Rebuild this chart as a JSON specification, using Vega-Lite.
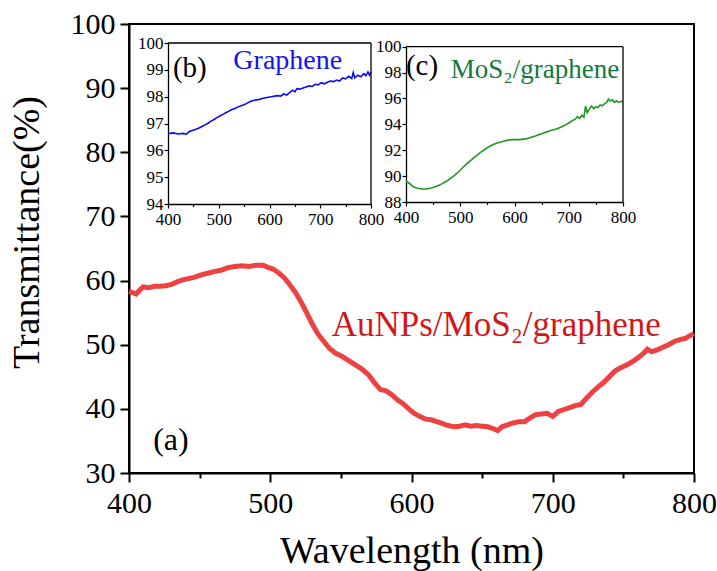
{
  "$schema": "https://vega.github.io/schema/vega-lite/v6.json",
  "width": 565,
  "height": 449,
  "autosize": {"type": "none"},
  "padding": {"left": 129, "top": 24, "right": 23, "bottom": 98},
  "background": "white",
  "config": {
    "view": {"stroke": "black", "strokeWidth": 2},
    "font": "Liberation Serif",
    "axis": {
      "labelFont": "Liberation Serif",
      "titleFont": "Liberation Serif",
      "labelColor": "black",
      "titleColor": "black",
      "domainColor": "black",
      "tickColor": "black",
      "titleFontWeight": "normal",
      "grid": false,
      "labelFlush": false,
      "labelOverlap": false
    }
  },
  "datasets": {
    "one": [{}],
    "main": [
      {"wl": 400, "t": 58.3}, {"wl": 403, "t": 58.1}, {"wl": 405, "t": 57.9}, {"wl": 408, "t": 58.6}, {"wl": 410, "t": 59.0},
      {"wl": 414, "t": 58.9}, {"wl": 418, "t": 59.1}, {"wl": 422, "t": 59.1}, {"wl": 426, "t": 59.2}, {"wl": 430, "t": 59.4},
      {"wl": 434, "t": 59.8}, {"wl": 438, "t": 60.1}, {"wl": 442, "t": 60.3}, {"wl": 446, "t": 60.5}, {"wl": 450, "t": 60.8},
      {"wl": 455, "t": 61.1}, {"wl": 460, "t": 61.4}, {"wl": 465, "t": 61.6}, {"wl": 470, "t": 62.0}, {"wl": 475, "t": 62.2},
      {"wl": 480, "t": 62.3}, {"wl": 485, "t": 62.2}, {"wl": 490, "t": 62.4}, {"wl": 495, "t": 62.4}, {"wl": 498, "t": 62.1},
      {"wl": 502, "t": 61.8}, {"wl": 506, "t": 61.2}, {"wl": 510, "t": 60.4}, {"wl": 514, "t": 59.3}, {"wl": 518, "t": 58.1},
      {"wl": 522, "t": 56.6}, {"wl": 526, "t": 54.9}, {"wl": 530, "t": 53.1}, {"wl": 534, "t": 51.6}, {"wl": 538, "t": 50.5},
      {"wl": 542, "t": 49.4}, {"wl": 546, "t": 48.7}, {"wl": 550, "t": 48.3}, {"wl": 555, "t": 47.6}, {"wl": 560, "t": 46.9},
      {"wl": 565, "t": 46.2}, {"wl": 570, "t": 45.2}, {"wl": 574, "t": 44.0}, {"wl": 578, "t": 43.0}, {"wl": 582, "t": 42.8},
      {"wl": 586, "t": 42.2}, {"wl": 590, "t": 41.4}, {"wl": 594, "t": 40.8}, {"wl": 598, "t": 40.0}, {"wl": 602, "t": 39.3},
      {"wl": 606, "t": 38.8}, {"wl": 610, "t": 38.4}, {"wl": 614, "t": 38.3}, {"wl": 618, "t": 38.0}, {"wl": 622, "t": 37.7},
      {"wl": 626, "t": 37.4}, {"wl": 630, "t": 37.2}, {"wl": 634, "t": 37.3}, {"wl": 638, "t": 37.5}, {"wl": 642, "t": 37.3},
      {"wl": 646, "t": 37.4}, {"wl": 650, "t": 37.3}, {"wl": 654, "t": 37.2}, {"wl": 658, "t": 36.9}, {"wl": 661, "t": 36.6},
      {"wl": 664, "t": 37.2}, {"wl": 668, "t": 37.5}, {"wl": 672, "t": 37.8}, {"wl": 676, "t": 38.0}, {"wl": 680, "t": 38.0},
      {"wl": 684, "t": 38.6}, {"wl": 688, "t": 39.1}, {"wl": 692, "t": 39.2}, {"wl": 696, "t": 39.3}, {"wl": 700, "t": 38.8},
      {"wl": 704, "t": 39.6}, {"wl": 708, "t": 39.9}, {"wl": 712, "t": 40.2}, {"wl": 716, "t": 40.5}, {"wl": 720, "t": 40.7},
      {"wl": 724, "t": 41.7}, {"wl": 728, "t": 42.6}, {"wl": 732, "t": 43.4}, {"wl": 736, "t": 44.1}, {"wl": 740, "t": 45.0},
      {"wl": 744, "t": 45.9}, {"wl": 748, "t": 46.4}, {"wl": 752, "t": 46.8}, {"wl": 756, "t": 47.3}, {"wl": 760, "t": 47.9},
      {"wl": 764, "t": 48.6}, {"wl": 767, "t": 49.3}, {"wl": 770, "t": 48.9}, {"wl": 774, "t": 49.2}, {"wl": 778, "t": 49.6},
      {"wl": 782, "t": 50.0}, {"wl": 786, "t": 50.5}, {"wl": 790, "t": 50.8}, {"wl": 794, "t": 51.0}, {"wl": 797, "t": 51.4},
      {"wl": 800, "t": 51.7}
    ],
    "b": [
      {"wl": 400, "t": 96.62}, {"wl": 410, "t": 96.65}, {"wl": 420, "t": 96.61}, {"wl": 430, "t": 96.63}, {"wl": 436, "t": 96.60},
      {"wl": 442, "t": 96.70}, {"wl": 448, "t": 96.74}, {"wl": 454, "t": 96.78}, {"wl": 460, "t": 96.82}, {"wl": 466, "t": 96.88},
      {"wl": 472, "t": 96.94}, {"wl": 478, "t": 97.00}, {"wl": 484, "t": 97.08}, {"wl": 490, "t": 97.14}, {"wl": 496, "t": 97.22},
      {"wl": 502, "t": 97.28}, {"wl": 508, "t": 97.34}, {"wl": 514, "t": 97.40}, {"wl": 520, "t": 97.46}, {"wl": 526, "t": 97.52},
      {"wl": 532, "t": 97.56}, {"wl": 538, "t": 97.62}, {"wl": 544, "t": 97.66}, {"wl": 550, "t": 97.70}, {"wl": 556, "t": 97.76},
      {"wl": 562, "t": 97.82}, {"wl": 568, "t": 97.86}, {"wl": 574, "t": 97.88}, {"wl": 580, "t": 97.90}, {"wl": 586, "t": 97.93},
      {"wl": 592, "t": 97.96}, {"wl": 598, "t": 97.98}, {"wl": 604, "t": 98.00}, {"wl": 610, "t": 98.02}, {"wl": 616, "t": 98.04},
      {"wl": 622, "t": 98.02}, {"wl": 628, "t": 98.10}, {"wl": 634, "t": 98.06}, {"wl": 640, "t": 98.16}, {"wl": 646, "t": 98.24},
      {"wl": 650, "t": 98.18}, {"wl": 654, "t": 98.30}, {"wl": 660, "t": 98.28}, {"wl": 666, "t": 98.32}, {"wl": 672, "t": 98.36},
      {"wl": 678, "t": 98.40}, {"wl": 684, "t": 98.38}, {"wl": 690, "t": 98.46}, {"wl": 696, "t": 98.44}, {"wl": 702, "t": 98.52},
      {"wl": 708, "t": 98.48}, {"wl": 714, "t": 98.54}, {"wl": 720, "t": 98.58}, {"wl": 726, "t": 98.56}, {"wl": 732, "t": 98.62},
      {"wl": 738, "t": 98.58}, {"wl": 744, "t": 98.70}, {"wl": 750, "t": 98.66}, {"wl": 756, "t": 98.76}, {"wl": 762, "t": 98.68},
      {"wl": 765, "t": 98.90}, {"wl": 768, "t": 98.70}, {"wl": 774, "t": 98.80}, {"wl": 780, "t": 98.74}, {"wl": 786, "t": 98.86},
      {"wl": 790, "t": 98.78}, {"wl": 794, "t": 98.92}, {"wl": 797, "t": 98.80}, {"wl": 800, "t": 98.92}
    ],
    "c": [
      {"wl": 400, "t": 89.60}, {"wl": 406, "t": 89.45}, {"wl": 412, "t": 89.22}, {"wl": 418, "t": 89.10}, {"wl": 424, "t": 89.04},
      {"wl": 430, "t": 89.00}, {"wl": 436, "t": 89.00}, {"wl": 442, "t": 89.04}, {"wl": 448, "t": 89.10}, {"wl": 454, "t": 89.18},
      {"wl": 460, "t": 89.28}, {"wl": 466, "t": 89.40}, {"wl": 472, "t": 89.54}, {"wl": 478, "t": 89.70}, {"wl": 484, "t": 89.88},
      {"wl": 490, "t": 90.08}, {"wl": 496, "t": 90.30}, {"wl": 502, "t": 90.55}, {"wl": 508, "t": 90.80}, {"wl": 514, "t": 91.02},
      {"wl": 520, "t": 91.24}, {"wl": 526, "t": 91.45}, {"wl": 532, "t": 91.65}, {"wl": 538, "t": 91.85}, {"wl": 544, "t": 92.02},
      {"wl": 550, "t": 92.20}, {"wl": 556, "t": 92.35}, {"wl": 562, "t": 92.46}, {"wl": 568, "t": 92.56}, {"wl": 574, "t": 92.64},
      {"wl": 580, "t": 92.70}, {"wl": 586, "t": 92.76}, {"wl": 592, "t": 92.80}, {"wl": 598, "t": 92.82}, {"wl": 604, "t": 92.82},
      {"wl": 610, "t": 92.82}, {"wl": 616, "t": 92.86}, {"wl": 622, "t": 92.88}, {"wl": 628, "t": 92.96}, {"wl": 634, "t": 93.05},
      {"wl": 640, "t": 93.12}, {"wl": 646, "t": 93.22}, {"wl": 652, "t": 93.30}, {"wl": 658, "t": 93.40}, {"wl": 664, "t": 93.48},
      {"wl": 670, "t": 93.56}, {"wl": 676, "t": 93.62}, {"wl": 682, "t": 93.72}, {"wl": 688, "t": 93.84}, {"wl": 694, "t": 93.96},
      {"wl": 700, "t": 94.10}, {"wl": 706, "t": 94.28}, {"wl": 712, "t": 94.40}, {"wl": 716, "t": 94.60}, {"wl": 720, "t": 94.46},
      {"wl": 724, "t": 94.70}, {"wl": 728, "t": 94.56}, {"wl": 731, "t": 95.40}, {"wl": 734, "t": 94.90}, {"wl": 738, "t": 95.20},
      {"wl": 742, "t": 95.42}, {"wl": 746, "t": 95.20}, {"wl": 750, "t": 95.36}, {"wl": 754, "t": 95.30}, {"wl": 758, "t": 95.50},
      {"wl": 762, "t": 95.44}, {"wl": 766, "t": 95.60}, {"wl": 770, "t": 95.70}, {"wl": 773, "t": 95.96}, {"wl": 776, "t": 95.80},
      {"wl": 780, "t": 95.90}, {"wl": 784, "t": 95.70}, {"wl": 788, "t": 95.82}, {"wl": 792, "t": 95.70}, {"wl": 796, "t": 95.78},
      {"wl": 800, "t": 95.74}
    ]
  },
  "layer": [
    {
      "layer": [
        {
          "data": {"name": "main"},
          "mark": {"type": "line", "color": "#ee4242", "strokeWidth": 5},
          "encoding": {
            "x": {
              "field": "wl", "type": "quantitative",
              "scale": {"domain": [400, 800], "nice": false, "zero": false},
              "axis": {
                "orient": "bottom", "title": "Wavelength (nm)",
                "values": [400, 450, 500, 550, 600, 650, 700, 750, 800],
                "labelExpr": "datum.value % 100 === 0 ? datum.label : ''",
                "tickSize": {"condition": {"test": "datum.value % 100 === 0", "value": 9}, "value": 5},
                "tickWidth": 2, "domainWidth": 2,
                "labelFontSize": 30, "labelPadding": 6,
                "titleFontSize": 38, "titlePadding": 14
              }
            },
            "y": {
              "field": "t", "type": "quantitative",
              "scale": {"domain": [30, 100], "nice": false, "zero": false},
              "axis": {
                "orient": "left", "title": "Transmittance(%)",
                "values": [30, 35, 40, 45, 50, 55, 60, 65, 70, 75, 80, 85, 90, 95, 100],
                "labelExpr": "datum.value % 10 === 0 ? datum.label : ''",
                "tickSize": {"condition": {"test": "datum.value % 10 === 0", "value": 9}, "value": 5},
                "tickWidth": 2, "domainWidth": 2,
                "labelFontSize": 30, "labelPadding": 5,
                "titleFontSize": 38, "titlePadding": 24, "titleY": 208
              }
            }
          }
        },
        {
          "data": {"name": "one"},
          "mark": {"type": "text", "text": "AuNPs/MoS₂/graphene", "color": "#d01818", "fontSize": 35, "font": "Liberation Serif", "align": "center", "baseline": "middle"},
          "encoding": {"x": {"datum": 660}, "y": {"datum": 53.1}}
        },
        {
          "data": {"name": "one"},
          "mark": {"type": "text", "text": "(a)", "color": "black", "fontSize": 32, "font": "Liberation Serif", "align": "center", "baseline": "middle"},
          "encoding": {"x": {"datum": 429.7}, "y": {"datum": 35.1}}
        }
      ]
    },
    {
      "layer": [
        {
          "data": {"name": "b"},
          "mark": {"type": "line", "color": "#0a0af5", "strokeWidth": 1.6},
          "encoding": {
            "x": {
              "field": "wl", "type": "quantitative",
              "scale": {"domain": [400, 800], "nice": false, "zero": false, "range": [39, 242]},
              "axis": {
                "orient": "bottom", "offset": -269, "title": null,
                "values": [400, 450, 500, 550, 600, 650, 700, 750, 800],
                "labelExpr": "datum.value % 100 === 0 ? datum.label : ''",
                "tickSize": {"condition": {"test": "datum.value % 100 === 0", "value": 4}, "value": 2.5},
                "tickWidth": 1.2, "domainWidth": 1.3,
                "labelFontSize": 17, "labelPadding": 3
              }
            },
            "y": {
              "field": "t", "type": "quantitative",
              "scale": {"domain": [94, 100], "nice": false, "zero": false, "range": [180, 19]},
              "axis": {
                "orient": "left", "offset": -39, "title": null,
                "values": [94, 94.5, 95, 95.5, 96, 96.5, 97, 97.5, 98, 98.5, 99, 99.5, 100],
                "labelExpr": "datum.value % 1 === 0 ? format(datum.value, 'd') : ''",
                "tickSize": {"condition": {"test": "datum.value % 1 === 0", "value": 4}, "value": 2.5},
                "tickWidth": 1.2, "domainWidth": 1.3,
                "labelFontSize": 17, "labelPadding": 1
              }
            }
          }
        },
        {
          "data": {"name": "one"},
          "mark": {"type": "rule", "color": "black", "strokeWidth": 1.3},
          "encoding": {"x": {"datum": 400}, "x2": {"datum": 800}, "y": {"datum": 100}}
        },
        {
          "data": {"name": "one"},
          "mark": {"type": "rule", "color": "black", "strokeWidth": 1.3},
          "encoding": {"x": {"datum": 800}, "y": {"datum": 94}, "y2": {"datum": 100}}
        },
        {
          "data": {"name": "one"},
          "mark": {"type": "text", "text": "(b)", "color": "black", "fontSize": 29, "font": "Liberation Serif", "align": "center", "baseline": "middle"},
          "encoding": {"x": {"datum": 443}, "y": {"datum": 99.07}}
        },
        {
          "data": {"name": "one"},
          "mark": {"type": "text", "text": "Graphene", "color": "#1414ee", "fontSize": 28, "font": "Liberation Serif", "align": "center", "baseline": "middle"},
          "encoding": {"x": {"datum": 636}, "y": {"datum": 99.33}}
        }
      ]
    },
    {
      "layer": [
        {
          "data": {"name": "c"},
          "mark": {"type": "line", "color": "#1f9a1f", "strokeWidth": 1.6},
          "encoding": {
            "x": {
              "field": "wl", "type": "quantitative",
              "scale": {"domain": [400, 800], "nice": false, "zero": false, "range": [277, 494]},
              "axis": {
                "orient": "bottom", "offset": -271, "title": null,
                "values": [400, 450, 500, 550, 600, 650, 700, 750, 800],
                "labelExpr": "datum.value % 100 === 0 ? datum.label : ''",
                "tickSize": {"condition": {"test": "datum.value % 100 === 0", "value": 4}, "value": 2.5},
                "tickWidth": 1.2, "domainWidth": 1.3,
                "labelFontSize": 17, "labelPadding": 3
              }
            },
            "y": {
              "field": "t", "type": "quantitative",
              "scale": {"domain": [88, 100], "nice": false, "zero": false, "range": [178, 22.7]},
              "axis": {
                "orient": "left", "offset": -277, "title": null,
                "values": [88, 89, 90, 91, 92, 93, 94, 95, 96, 97, 98, 99, 100],
                "labelExpr": "datum.value % 2 === 0 ? datum.label : ''",
                "tickSize": {"condition": {"test": "datum.value % 2 === 0", "value": 4}, "value": 2.5},
                "tickWidth": 1.2, "domainWidth": 1.3,
                "labelFontSize": 17, "labelPadding": 1
              }
            }
          }
        },
        {
          "data": {"name": "one"},
          "mark": {"type": "rule", "color": "black", "strokeWidth": 1.3},
          "encoding": {"x": {"datum": 400}, "x2": {"datum": 800}, "y": {"datum": 100}}
        },
        {
          "data": {"name": "one"},
          "mark": {"type": "rule", "color": "black", "strokeWidth": 1.3},
          "encoding": {"x": {"datum": 800}, "y": {"datum": 88}, "y2": {"datum": 100}}
        },
        {
          "data": {"name": "one"},
          "mark": {"type": "text", "text": "(c)", "color": "black", "fontSize": 29, "font": "Liberation Serif", "align": "center", "baseline": "middle"},
          "encoding": {"x": {"datum": 429.5}, "y": {"datum": 98.5}}
        },
        {
          "data": {"name": "one"},
          "mark": {"type": "text", "text": "MoS₂/graphene", "color": "#137a3c", "fontSize": 27, "font": "Liberation Serif", "align": "center", "baseline": "middle"},
          "encoding": {"x": {"datum": 637.8}, "y": {"datum": 98.2}}
        }
      ]
    }
  ],
  "resolve": {"scale": {"x": "independent", "y": "independent"}}
}
